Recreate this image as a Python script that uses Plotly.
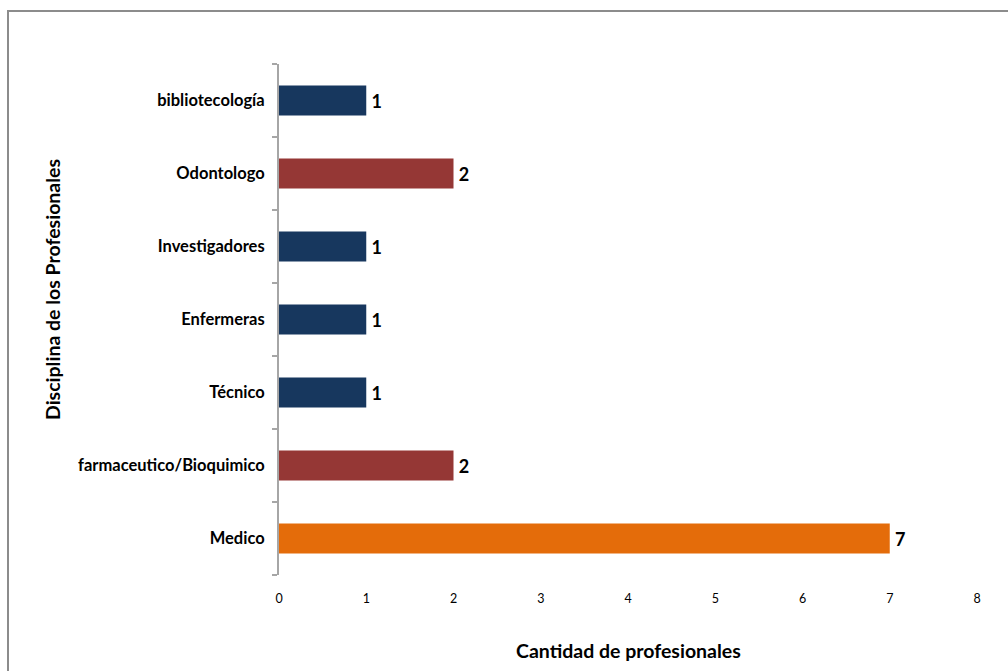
import plotly.graph_objects as go

categories = ["Medico", "farmaceutico/Bioquimico", "Técnico", "Enfermeras",
              "Investigadores", "Odontologo", "bibliotecología"]
values = [7, 2, 1, 1, 1, 2, 1]
colors = ["#E46C0A", "#953735", "#17375E", "#17375E", "#17375E", "#953735", "#17375E"]
x_ticks = [0, 1, 2, 3, 4, 5, 6, 7, 8]
x_title = "Cantidad de profesionales"
y_title = "Disciplina de los Profesionales"

FONT = "Lato, Open Sans, sans-serif"

fig = go.Figure(go.Bar(
    x=values, y=categories, orientation="h",
    marker=dict(color=colors, line=dict(width=0)),
    width=0.41,
    text=["\u2009" + str(v) for v in values], textposition="outside",
    textfont=dict(family=FONT, size=18, color="#000000", weight="bold"),
    cliponaxis=False,
))

L, R, T, B = 279, 977, 64, 575
W, H = 1008, 671

def px(x):
    return (x - L) / (R - L)

def py(y):
    return (B - y) / (B - T)

fig.update_layout(
    width=W, height=H,
    margin=dict(l=L, r=W - R, t=T, b=H - B),
    paper_bgcolor="white", plot_bgcolor="white",
    showlegend=False,
    font=dict(family=FONT, color="#000000"),
    xaxis=dict(
        range=[0, 8], tickvals=x_ticks, showgrid=False, zeroline=False,
        showline=False, ticks="", tickfont=dict(size=12.5, color="#000000"),
        ticklabelstandoff=14,
    ),
    yaxis=dict(
        type="category", categoryorder="array", categoryarray=categories,
        range=[-0.5, 6.5],
        showgrid=False, zeroline=False, showline=True, linecolor="#A6A6A6", linewidth=2,
        ticks="outside", ticklen=5, tickcolor="#A6A6A6", tickwidth=1.5, tickson="boundaries",
        tickfont=dict(size=16.5, color="#000000", weight="bold"),
        ticklabelstandoff=9,
    ),
    annotations=[
        dict(text="<b>" + x_title + "</b>", xref="paper", yref="paper",
             x=px(628), y=py(650), xanchor="center", yanchor="middle",
             showarrow=False, font=dict(size=19.5, family=FONT, color="#000000")),
        dict(text="<b>" + y_title + "</b>", xref="paper", yref="paper",
             x=px(52), y=py(290), xanchor="center", yanchor="middle", textangle=-90,
             showarrow=False, font=dict(size=19.5, family=FONT, color="#000000")),
    ],
    shapes=[dict(type="rect", xref="paper", yref="paper",
                 x0=px(8), x1=px(1012), y0=py(680), y1=py(11),
                 line=dict(color="#8C8C8C", width=2), fillcolor="rgba(0,0,0,0)", layer="above")],
)

fig.write_html("out.html", config={"displayModeBar": False},
               post_script="document.body.style.margin='0';")
